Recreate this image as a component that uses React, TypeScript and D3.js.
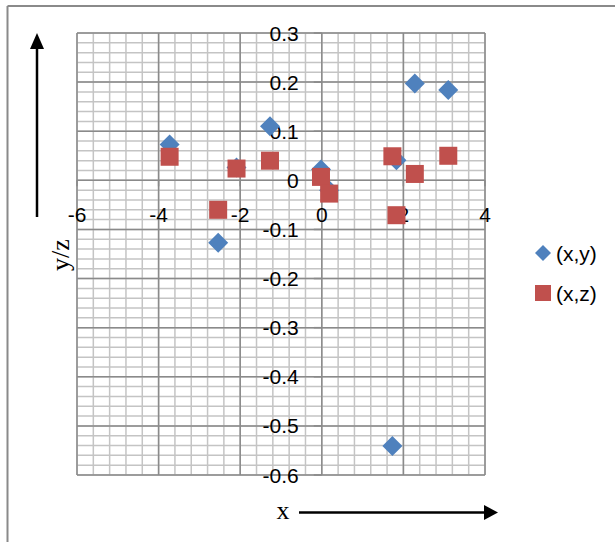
import React from "react";
import * as d3 from "d3";

const xValues = [-3.73, -2.54, -2.09, -1.27, -0.02, 0.18, 1.73, 1.83, 2.28, 3.1];
const yValues = [0.073, -0.127, 0.026, 0.11, 0.022, -0.02, -0.541, 0.041, 0.197, 0.184];
const zValues = [0.048, -0.06, 0.024, 0.04, 0.007, -0.027, 0.049, -0.071, 0.013, 0.05];
const xTicks = [-6, -4, -2, 0, 2, 4];
const yTicks = [-0.6, -0.5, -0.4, -0.3, -0.2, -0.1, 0, 0.1, 0.2, 0.3];
const seriesNames = ["(x,y)", "(x,z)"];

const BLUE = "#4F81BD";
const RED = "#C0504D";

export default function App() {
  const x = d3.scaleLinear().domain([-6, 4]).range([77, 485]);
  const y = d3.scaleLinear().domain([-0.6, 0.3]).range([475, 33]);
  const xMinor = d3.range(0, 26).map((i) => -6 + i * 0.4);
  const yMinor = d3.range(0, 46).map((i) => -0.6 + i * 0.02);
  const fmt = (v: number) => (Math.abs(v) < 1e-9 ? "0" : String(+v.toFixed(1)));
  const tickFont = "'Liberation Sans', Arial, sans-serif";
  const diamond = (cx: number, cy: number, r: number) =>
    `M${cx},${cy - r}L${cx + r},${cy}L${cx},${cy + r}L${cx - r},${cy}Z`;

  return (
    <svg
      width={615}
      height={542}
      style={{ position: "absolute", left: 0, top: 0, background: "#fff" }}
    >
      <rect x={0} y={0} width={615} height={542} fill="#fff" />
      {/* outer border */}
      <line x1={7.5} y1={6} x2={615} y2={6} stroke="#8a8a8a" strokeWidth={2} />
      <line x1={7.5} y1={6} x2={7.5} y2={542} stroke="#8a8a8a" strokeWidth={2} />

      {/* minor grid */}
      {xMinor.map((v, i) => (
        <line key={"xm" + i} x1={x(v)} x2={x(v)} y1={y(-0.6)} y2={y(0.3)} stroke="#c4c4c4" strokeWidth={1.5} />
      ))}
      {yMinor.map((v, i) => (
        <line key={"ym" + i} x1={x(-6)} x2={x(4)} y1={y(v)} y2={y(v)} stroke="#c4c4c4" strokeWidth={1.5} />
      ))}
      {/* major grid */}
      {xTicks.map((v) => (
        <line key={"xM" + v} x1={x(v)} x2={x(v)} y1={y(-0.6)} y2={y(0.3)} stroke="#8a8a8a" strokeWidth={1.5} />
      ))}
      {yTicks.map((v) => (
        <line key={"yM" + v} x1={x(-6)} x2={x(4)} y1={y(v)} y2={y(v)} stroke="#8a8a8a" strokeWidth={1.5} />
      ))}
      {/* axis tick marks */}
      {yTicks.map((v) => (
        <line key={"yt" + v} x1={x(0) - 8} x2={x(0)} y1={y(v)} y2={y(v)} stroke="#8a8a8a" strokeWidth={1.5} />
      ))}
      {xTicks.map((v) => (
        <line key={"xt" + v} x1={x(v)} x2={x(v)} y1={y(0)} y2={y(0) + 6} stroke="#8a8a8a" strokeWidth={1.5} />
      ))}

      {/* tick labels */}
      {yTicks.map((v) => (
        <text
          key={"yl" + v}
          x={x(0) - 23}
          y={y(v)}
          dy="0.36em"
          textAnchor="end"
          fontFamily={tickFont}
          fontSize={21}
          fill="#000"
        >
          {fmt(v)}
        </text>
      ))}
      {xTicks.map((v) => (
        <text
          key={"xl" + v}
          x={x(v)}
          y={y(0) + 34}
          dy="0.36em"
          textAnchor="middle"
          fontFamily={tickFont}
          fontSize={21}
          fill="#000"
        >
          {fmt(v)}
        </text>
      ))}

      {/* series (x,y) diamonds */}
      {xValues.map((xv, i) => (
        <path key={"d" + i} d={diamond(x(xv), y(yValues[i]), 10)} fill={BLUE} />
      ))}
      {/* series (x,z) squares */}
      {xValues.map((xv, i) => (
        <rect key={"s" + i} x={x(xv) - 9} y={y(zValues[i]) - 9} width={18} height={18} fill={RED} />
      ))}

      {/* legend */}
      <path d={diamond(543, 253, 8)} fill={BLUE} />
      <text x={556} y={253} dy="0.36em" fontFamily={tickFont} fontSize={21} fill="#000">
        {seriesNames[0]}
      </text>
      <rect x={535} y={285} width={16} height={16} fill={RED} />
      <text x={556} y={293} dy="0.36em" fontFamily={tickFont} fontSize={21} fill="#000">
        {seriesNames[1]}
      </text>

      {/* vertical arrow & label */}
      <line x1={37} y1={217} x2={37} y2={46} stroke="#000" strokeWidth={2.5} />
      <path d="M37,33L44,49L30,49Z" fill="#000" />
      <text
        transform="translate(69,255) rotate(-90)"
        textAnchor="middle"
        fontFamily="'Liberation Serif', 'Times New Roman', serif"
        fontSize={26}
        fill="#000"
      >
        y/z
      </text>

      {/* horizontal arrow & label */}
      <line x1={299} y1={512.5} x2={486} y2={512.5} stroke="#000" strokeWidth={2.5} />
      <path d="M498,512.5L484,505L484,520Z" fill="#000" />
      <text
        x={283}
        y={519}
        textAnchor="middle"
        fontFamily="'Liberation Serif', 'Times New Roman', serif"
        fontSize={26}
        fill="#000"
      >
        x
      </text>
    </svg>
  );
}
